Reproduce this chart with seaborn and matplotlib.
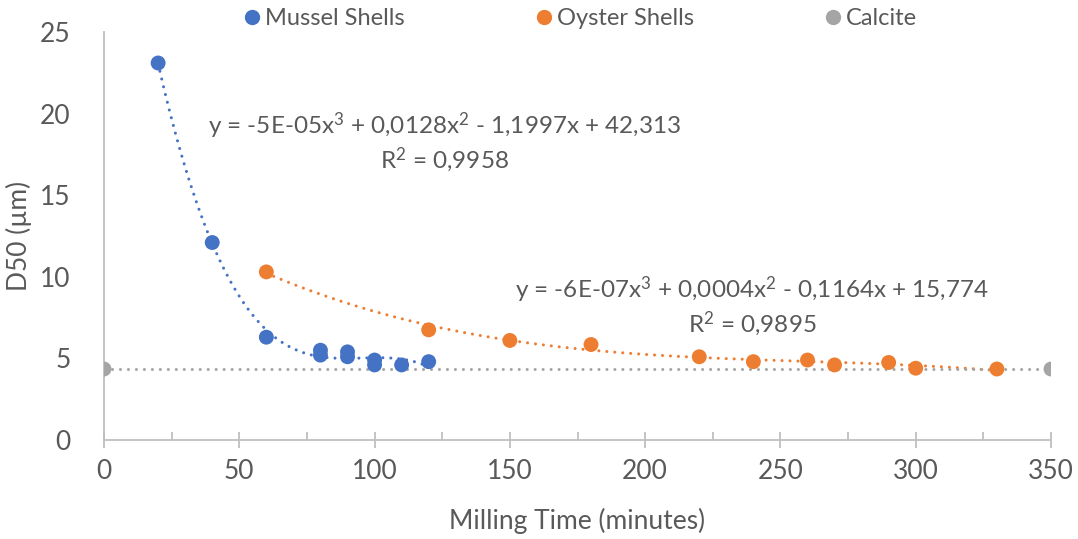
import numpy as np
import pandas as pd
import matplotlib
matplotlib.use("Agg")
import matplotlib.pyplot as plt
import seaborn as sns
from matplotlib.lines import Line2D
from matplotlib.ticker import MultipleLocator

# Data
mussel_time = [20, 40, 60, 80, 80, 90, 90, 100, 100, 110, 120]
mussel_d50 = [23.1, 12.1, 6.3, 5.5, 5.2, 5.4, 5.1, 4.9, 4.6, 4.6, 4.8]
oyster_time = [60, 120, 150, 180, 220, 240, 260, 270, 290, 300, 330]
oyster_d50 = [10.3, 6.75, 6.1, 5.85, 5.1, 4.8, 4.9, 4.6, 4.75, 4.4, 4.35]
calcite_time = [0, 350]
calcite_d50 = [4.35, 4.35]

series_names = ["Mussel Shells", "Oyster Shells", "Calcite"]
colors = ["#4472C4", "#ED7D31", "#A5A5A5"]
eq_mussel = "y = -5E-05x$^3$ + 0,0128x$^2$ - 1,1997x + 42,313\nR$^2$ = 0,9958"
eq_oyster = "y = -6E-07x$^3$ + 0,0004x$^2$ - 0,1164x + 15,774\nR$^2$ = 0,9895"

sns.set_theme(style="white")
plt.rcParams['font.family'] = ['Lato', 'DejaVu Sans']
plt.rcParams['mathtext.fontset'] = 'custom'
plt.rcParams['mathtext.rm'] = 'Lato'
plt.rcParams['mathtext.it'] = 'Lato'
plt.rcParams['mathtext.default'] = 'regular'
txt = "#595959"
axc = "#BFBFBF"

fig = plt.figure(figsize=(10.78, 5.39), dpi=100)
ax = fig.add_axes([104/1078, 1-440/539, (1051-104)/1078, (440-32)/539])

dot = (0, (0.01, 2.6))
lw = 2.2

dfs = [
    pd.DataFrame({"t": mussel_time, "d": mussel_d50}),
    pd.DataFrame({"t": oyster_time, "d": oyster_d50}),
    pd.DataFrame({"t": calcite_time, "d": calcite_d50}),
]
orders = [3, 3, 1]
for df, c, o in zip(dfs, colors, orders):
    sns.regplot(data=df, x="t", y="d", order=o, ci=None, scatter=False, ax=ax,
                line_kws=dict(color=c, lw=lw, linestyle=dot, dash_capstyle="round", zorder=2))
for df, c in zip(dfs, colors):
    sns.scatterplot(data=df, x="t", y="d", color=c, s=115, edgecolor="none", ax=ax, zorder=3)

ax.set_xlim(0, 350)
ax.set_ylim(0, 25)
ax.xaxis.set_major_locator(MultipleLocator(50))
ax.xaxis.set_minor_locator(MultipleLocator(25))
ax.yaxis.set_major_locator(MultipleLocator(5))
for s in ["top", "right"]:
    ax.spines[s].set_visible(False)
for s in ["left", "bottom"]:
    ax.spines[s].set_color(axc)
    ax.spines[s].set_linewidth(1.3)
ax.tick_params(axis="x", which="major", direction="inout", length=12, width=1.3, color=axc,
               labelsize=19, labelcolor=txt, pad=8, bottom=True)
ax.tick_params(axis="x", which="minor", direction="in", length=6, width=1.3, color=axc, bottom=True)
ax.tick_params(axis="y", which="major", length=0, labelsize=19, labelcolor=txt, pad=24)
ax.set_xlabel("Milling Time (minutes)", fontsize=19, color=txt, labelpad=17)
ax.set_ylabel("D50 (µm)", fontsize=19, color=txt, labelpad=6)

ax.text(126, 18.25, eq_mussel, ha="center", va="center", fontsize=17.5, color=txt,
        linespacing=1.2)
ax.text(239.5, 8.2, eq_oyster, ha="center", va="center", fontsize=17.5, color=txt,
        linespacing=1.2)

handles = [Line2D([], [], marker="o", linestyle="none", color=c, markersize=10)
           for c in colors]
fig.legend(handles, series_names, loc="center", bbox_to_anchor=(0.537, 0.966), ncol=3,
           frameon=False, fontsize=17, labelcolor=txt, handletextpad=0.05,
           columnspacing=5.4, handlelength=1.0)

fig.savefig("out.png", dpi=100)
